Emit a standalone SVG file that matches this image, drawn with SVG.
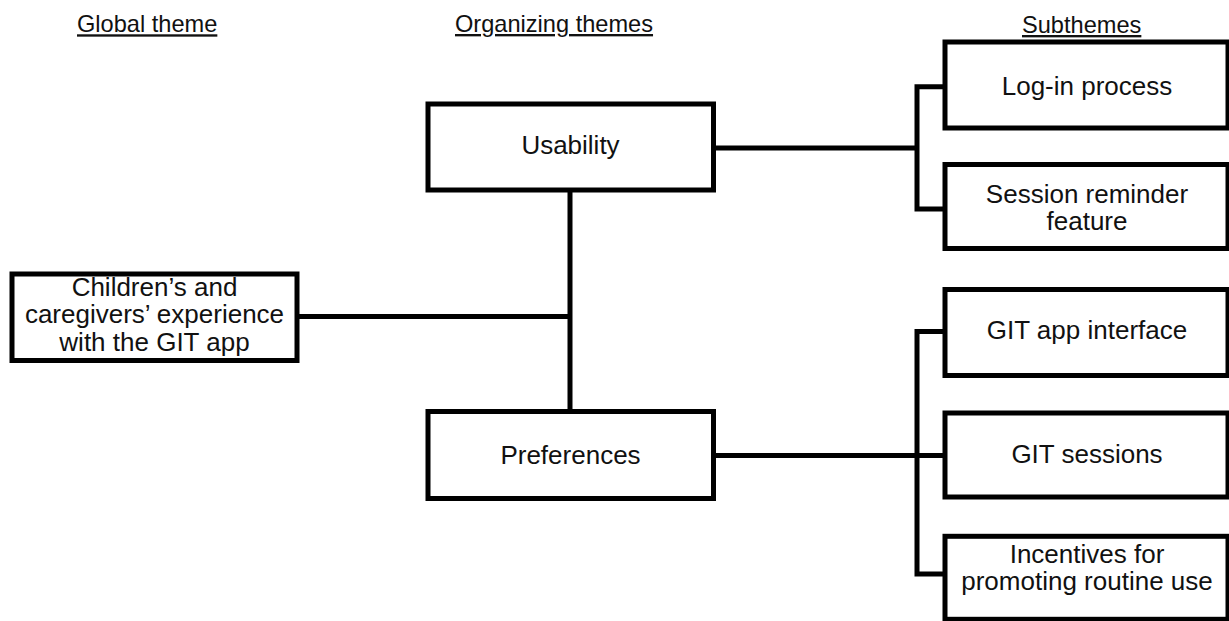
<svg xmlns="http://www.w3.org/2000/svg" width="1229" height="621" viewBox="0 0 1229 621">
<style>
.box{fill:#fff;stroke:#000;stroke-width:5}
.hdr{font-family:"Liberation Sans",Arial,sans-serif;font-size:23.6px;fill:#111;text-decoration:underline}
.lbl{font-family:"Liberation Sans",Arial,sans-serif;font-size:26px;fill:#111;text-anchor:middle}
.con{fill:none;stroke:#000;stroke-width:5;stroke-linejoin:miter}
</style>
<rect width="1229" height="621" fill="#fff"/>
<g id="headers">
<text class="hdr" x="77" y="32.3">Global theme</text>
<text class="hdr" x="455" y="32">Organizing themes</text>
<text class="hdr" x="1022" y="33">Subthemes</text>
</g>
<g id="connectors">
<path class="con" d="M297,316.5 H570"/>
<path class="con" d="M570,190 V411.5"/>
<path class="con" d="M713.5,148 H917"/>
<path class="con" d="M945,86.7 H917 V209 H945"/>
<path class="con" d="M713.5,455.5 H945"/>
<path class="con" d="M945,331.5 H917 V574 H945"/>
</g>
<g id="global">
<rect class="box" x="12" y="274" width="285" height="86.5"/>
<text class="lbl" y="296"><tspan x="154.5">Children’s  and</tspan><tspan x="154.5" dy="27.3">caregivers’ experience</tspan><tspan x="154.5" dy="27.3">with the GIT app</tspan></text>
</g>
<g id="usability">
<rect class="box" x="428" y="104" width="285.5" height="86"/>
<text class="lbl" x="570.5" y="154">Usability</text>
</g>
<g id="preferences">
<rect class="box" x="428" y="411.5" width="285.5" height="87"/>
<text class="lbl" x="570.5" y="463.5">Preferences</text>
</g>
<g id="login">
<rect class="box" x="945" y="42" width="283" height="86"/>
<text class="lbl" x="1087" y="95">Log-in process</text>
</g>
<g id="session-reminder">
<rect class="box" x="945" y="164.5" width="283" height="84"/>
<text class="lbl" y="202.7"><tspan x="1087">Session reminder</tspan><tspan x="1087" dy="27.3">feature</tspan></text>
</g>
<g id="app-interface">
<rect class="box" x="945" y="289.5" width="283" height="86"/>
<text class="lbl" x="1087" y="339">GIT app interface</text>
</g>
<g id="sessions">
<rect class="box" x="945" y="413" width="283" height="84"/>
<text class="lbl" x="1087" y="463">GIT sessions</text>
</g>
<g id="incentives">
<rect class="box" x="945" y="536.3" width="283" height="83"/>
<text class="lbl" y="562.7"><tspan x="1087">Incentives for</tspan><tspan x="1087" dy="27.3">promoting routine use</tspan></text>
</g>
</svg>
